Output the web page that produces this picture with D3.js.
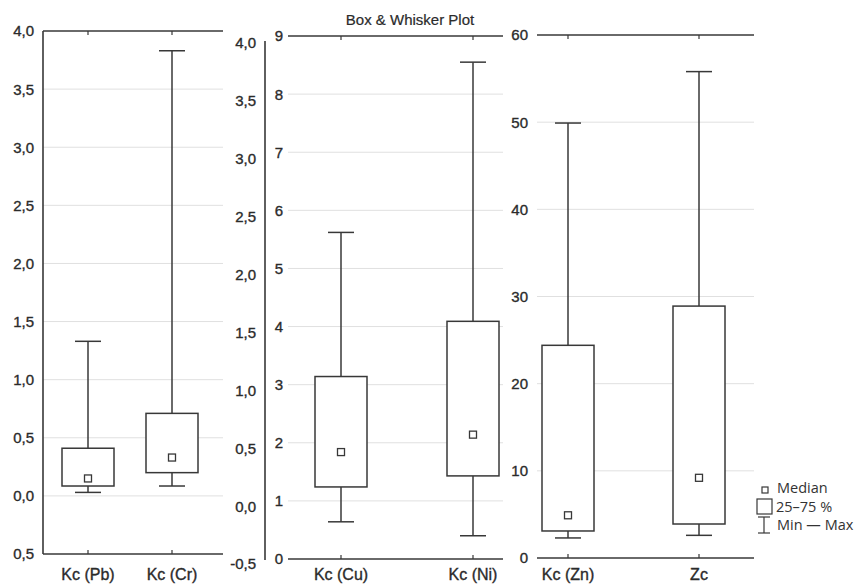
<!DOCTYPE html>
<html>
<head>
<meta charset="utf-8">
<script src="https://cdn.jsdelivr.net/npm/d3@7"></script>
<style>
  body { margin: 0; background: #fff; }
  text { font-family: "Liberation Sans", Arial, sans-serif; fill: #2b2b2b; stroke: #2b2b2b; stroke-width: 0.35px; }
  .legend text { font-family: "Open Sans", "Noto Sans", sans-serif; fill: #333; stroke: none; }
</style>
</head>
<body>
<div id="chart"></div>
<script>
// Chart data
var categories = ["Kc (Pb)", "Kc (Cr)", "Kc (Cu)", "Kc (Ni)", "Kc (Zn)", "Zc"];
var minValues    = [0.03, 0.085, 0.64, 0.40, 2.3, 2.6];
var q1Values     = [0.085, 0.20, 1.24, 1.43, 3.1, 3.9];
var medianValues = [0.15, 0.33, 1.84, 2.14, 4.9, 9.2];
var q3Values     = [0.41, 0.71, 3.14, 4.09, 24.4, 28.9];
var maxValues    = [1.33, 3.83, 5.62, 8.55, 49.9, 55.8];

// Tick values and labels
var ticksA = [-0.5, 0, 0.5, 1, 1.5, 2, 2.5, 3, 3.5, 4];
var labelsA = ["0,5", "0,0", "0,5", "1,0", "1,5", "2,0", "2,5", "3,0", "3,5", "4,0"];
var labelsMid = ["-0,5", "0,0", "0,5", "1,0", "1,5", "2,0", "2,5", "3,0", "3,5", "4,0"];
var ticksB = [0, 1, 2, 3, 4, 5, 6, 7, 8, 9];
var ticksC = [0, 10, 20, 30, 40, 50, 60];

var svgWidth = 857;
var svgHeight = 585;
var lineColor = "#383838";
var gridColor = "#e0e0e0";

var svg = d3.select("#chart")
  .append("svg")
  .attr("width", svgWidth)
  .attr("height", svgHeight);

// Draw a column of tick labels for a scale
function drawLabels(y, ticks, labels, xEnd) {
  svg.append("g")
    .selectAll("text")
    .data(ticks)
    .enter()
    .append("text")
    .attr("x", xEnd)
    .attr("y", d => y(d))
    .attr("dy", "0.36em")
    .attr("text-anchor", "end")
    .style("font-size", "15px")
    .text((d, i) => labels[i]);
}

// Panel layout
var panels = [
  { cats: [0, 1], domain: [-0.5, 4], range: [554, 31], frame: [43, 223], pts: [88, 172],
    ticks: ticksA, labels: labelsA, labelX: 34, leftLine: true },
  { cats: [2, 3], domain: [0, 9], range: [559, 36], frame: [288, 503], pts: [341, 473],
    ticks: ticksB, labels: ticksB.map(String), labelX: 283, leftLine: false },
  { cats: [4, 5], domain: [0, 60], range: [558, 35], frame: [537, 754], pts: [568, 699],
    ticks: ticksC, labels: ticksC.map(String), labelX: 528, leftLine: false }
];

panels.forEach(function(p) {
  var y = d3.scaleLinear().domain(p.domain).range(p.range);
  var x = d3.scalePoint().domain(p.cats).range(p.pts);
  var g = svg.append("g");

  // gridlines (interior ticks only)
  g.selectAll(".grid")
    .data(p.ticks.slice(1, -1))
    .enter()
    .append("line")
    .attr("x1", p.frame[0])
    .attr("x2", p.frame[1])
    .attr("y1", d => y(d))
    .attr("y2", d => y(d))
    .attr("stroke", gridColor)
    .attr("stroke-width", 1);

  // top and bottom frame lines
  [p.domain[0], p.domain[1]].forEach(function(v) {
    g.append("line")
      .attr("x1", p.frame[0]).attr("x2", p.frame[1])
      .attr("y1", y(v)).attr("y2", y(v))
      .attr("stroke", lineColor).attr("stroke-width", 1.6);
  });

  if (p.leftLine) {
    g.append("line")
      .attr("x1", p.frame[0]).attr("x2", p.frame[0])
      .attr("y1", y(p.domain[0])).attr("y2", y(p.domain[1]))
      .attr("stroke", lineColor).attr("stroke-width", 1.6);
  }

  drawLabels(y, p.ticks, p.labels, p.labelX);

  // category ticks (inward, top and bottom) and labels
  p.cats.forEach(function(c) {
    g.append("line")
      .attr("x1", x(c)).attr("x2", x(c))
      .attr("y1", y(p.domain[1])).attr("y2", y(p.domain[1]) + 4)
      .attr("stroke", lineColor).attr("stroke-width", 1.2);
    g.append("line")
      .attr("x1", x(c)).attr("x2", x(c))
      .attr("y1", y(p.domain[0])).attr("y2", y(p.domain[0]) - 4)
      .attr("stroke", lineColor).attr("stroke-width", 1.2);
    g.append("text")
      .attr("x", x(c))
      .attr("y", 580)
      .attr("text-anchor", "middle")
      .style("font-size", "16px")
      .text(categories[c]);
  });

  // boxes and whiskers
  var boxW = 52, capW = 26, medW = 7;
  var bg = g.selectAll(".box")
    .data(p.cats)
    .enter()
    .append("g");

  bg.append("line")
    .attr("x1", d => x(d)).attr("x2", d => x(d))
    .attr("y1", d => y(maxValues[d])).attr("y2", d => y(q3Values[d]))
    .attr("stroke", lineColor).attr("stroke-width", 1.5);
  bg.append("line")
    .attr("x1", d => x(d)).attr("x2", d => x(d))
    .attr("y1", d => y(q1Values[d])).attr("y2", d => y(minValues[d]))
    .attr("stroke", lineColor).attr("stroke-width", 1.5);
  bg.append("line")
    .attr("x1", d => x(d) - capW / 2).attr("x2", d => x(d) + capW / 2)
    .attr("y1", d => y(maxValues[d])).attr("y2", d => y(maxValues[d]))
    .attr("stroke", lineColor).attr("stroke-width", 1.5);
  bg.append("line")
    .attr("x1", d => x(d) - capW / 2).attr("x2", d => x(d) + capW / 2)
    .attr("y1", d => y(minValues[d])).attr("y2", d => y(minValues[d]))
    .attr("stroke", lineColor).attr("stroke-width", 1.5);
  bg.append("rect")
    .attr("x", d => x(d) - boxW / 2)
    .attr("width", boxW)
    .attr("y", d => y(q3Values[d]))
    .attr("height", d => y(q1Values[d]) - y(q3Values[d]))
    .attr("fill", "#fff")
    .attr("stroke", lineColor).attr("stroke-width", 1.5);
  bg.append("rect")
    .attr("x", d => x(d) - medW / 2)
    .attr("y", d => y(medianValues[d]) - medW / 2)
    .attr("width", medW).attr("height", medW)
    .attr("fill", "#fff")
    .attr("stroke", lineColor).attr("stroke-width", 1.3);
});

// Extra axis between panel 1 and 2
var yMid = d3.scaleLinear().domain([-0.5, 4]).range([564, 43]);
svg.append("line")
  .attr("x1", 265).attr("x2", 265)
  .attr("y1", 41).attr("y2", 560)
  .attr("stroke", lineColor).attr("stroke-width", 1.6);
drawLabels(yMid, ticksA, labelsMid, 256);

// Title
svg.append("text")
  .attr("x", 410)
  .attr("y", 25)
  .attr("text-anchor", "middle")
  .style("font-size", "15px")
  .style("stroke-width", "0.2px")
  .text("Box & Whisker Plot");

// Legend
var legend = svg.append("g").attr("class", "legend");
legend.append("rect")
  .attr("x", 762).attr("y", 487).attr("width", 6).attr("height", 6)
  .attr("fill", "#fff").attr("stroke", lineColor).attr("stroke-width", 1.2);
legend.append("text").attr("x", 777).attr("y", 493).style("font-size", "14.5px").text("Median");
legend.append("rect")
  .attr("x", 757).attr("y", 499).attr("width", 15).attr("height", 15)
  .attr("fill", "#fff").attr("stroke", lineColor).attr("stroke-width", 1.2);
legend.append("text").attr("x", 776).attr("y", 512).style("font-size", "14.5px").text("25–75 %");
legend.append("line").attr("x1", 764).attr("x2", 764).attr("y1", 517).attr("y2", 533)
  .attr("stroke", lineColor).attr("stroke-width", 1.2);
legend.append("line").attr("x1", 758).attr("x2", 770).attr("y1", 517).attr("y2", 517)
  .attr("stroke", lineColor).attr("stroke-width", 1.2);
legend.append("line").attr("x1", 758).attr("x2", 770).attr("y1", 533).attr("y2", 533)
  .attr("stroke", lineColor).attr("stroke-width", 1.2);
legend.append("text").attr("x", 777).attr("y", 530).style("font-size", "14.5px").text("Min — Max");
</script>
</body>
</html>
